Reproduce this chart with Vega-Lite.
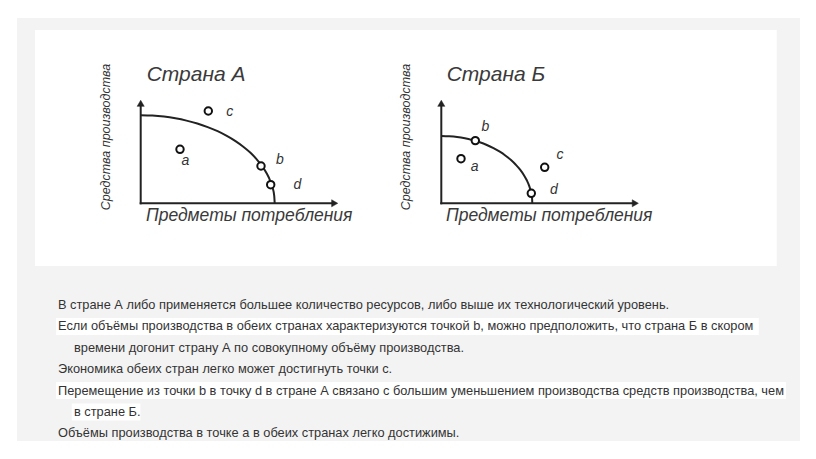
{
  "$schema": "https://vega.github.io/schema/vega-lite/v6.json",
  "background": "white",
  "padding": {"left": 17, "top": 18, "right": 16, "bottom": 18},
  "spacing": 0,
  "config": {"view": {"stroke": null, "fill": "#f3f3f3"}, "concat": {"spacing": 0}},
  "datasets": {
    "frame": [
      {"country": "A", "x": -10.57, "x2": 25.43, "y": 17.33, "y2": -6.27},
      {"country": "B", "x": -4.63, "x2": 33.54, "y": 17.33, "y2": -6.27}
    ],
    "axes": [
      {"country": "A", "x": 0, "y": 0, "x2": 19.3, "y2": 0},
      {"country": "A", "x": 0, "y": 0, "x2": 0, "y2": 9.9},
      {"country": "B", "x": 0, "y": 0, "x2": 19.3, "y2": 0},
      {"country": "B", "x": 0, "y": 0, "x2": 0, "y2": 9.9}
    ],
    "arrows": [
      {"country": "A", "dir": "up", "x": 0, "y": 10.0},
      {"country": "A", "dir": "right", "x": 19.4, "y": 0},
      {"country": "B", "dir": "up", "x": 0, "y": 10.0},
      {"country": "B", "dir": "right", "x": 19.4, "y": 0}
    ],
    "curve": [
      {"country": "A", "x": 0, "y": 8.8}, {"country": "A", "x": 1.17, "y": 8.77}, {"country": "A", "x": 2.33, "y": 8.67},
      {"country": "A", "x": 3.47, "y": 8.5}, {"country": "A", "x": 4.58, "y": 8.27}, {"country": "A", "x": 5.66, "y": 7.98},
      {"country": "A", "x": 6.7, "y": 7.62}, {"country": "A", "x": 7.69, "y": 7.21}, {"country": "A", "x": 8.61, "y": 6.74},
      {"country": "A", "x": 9.48, "y": 6.22}, {"country": "A", "x": 10.26, "y": 5.66}, {"country": "A", "x": 10.98, "y": 5.05},
      {"country": "A", "x": 11.6, "y": 4.4}, {"country": "A", "x": 12.14, "y": 3.72}, {"country": "A", "x": 12.59, "y": 3.01},
      {"country": "A", "x": 12.94, "y": 2.28}, {"country": "A", "x": 13.2, "y": 1.53}, {"country": "A", "x": 13.35, "y": 0.77},
      {"country": "A", "x": 13.4, "y": 0},
      {"country": "B", "x": 0, "y": 6.73}, {"country": "B", "x": 0.79, "y": 6.7}, {"country": "B", "x": 1.58, "y": 6.63},
      {"country": "B", "x": 2.36, "y": 6.5}, {"country": "B", "x": 3.11, "y": 6.32}, {"country": "B", "x": 3.85, "y": 6.1},
      {"country": "B", "x": 4.55, "y": 5.83}, {"country": "B", "x": 5.22, "y": 5.51}, {"country": "B", "x": 5.85, "y": 5.16},
      {"country": "B", "x": 6.43, "y": 4.76}, {"country": "B", "x": 6.97, "y": 4.33}, {"country": "B", "x": 7.45, "y": 3.86},
      {"country": "B", "x": 7.88, "y": 3.37}, {"country": "B", "x": 8.25, "y": 2.84}, {"country": "B", "x": 8.55, "y": 2.3},
      {"country": "B", "x": 8.79, "y": 1.74}, {"country": "B", "x": 8.96, "y": 1.17}, {"country": "B", "x": 9.07, "y": 0.59},
      {"country": "B", "x": 9.1, "y": 0}
    ],
    "points": [
      {"country": "A", "point": "a", "x": 3.93, "y": 5.4},
      {"country": "A", "point": "b", "x": 12.03, "y": 3.73},
      {"country": "A", "point": "c", "x": 6.76, "y": 9.23},
      {"country": "A", "point": "d", "x": 13.0, "y": 1.86},
      {"country": "B", "point": "a", "x": 1.97, "y": 4.46},
      {"country": "B", "point": "b", "x": 3.4, "y": 6.27},
      {"country": "B", "point": "c", "x": 10.34, "y": 3.6},
      {"country": "B", "point": "d", "x": 9.0, "y": 1.0}
    ],
    "pointLabels": [
      {"country": "A", "text": "a", "x": 4.46, "y": 4.26},
      {"country": "A", "text": "b", "x": 13.93, "y": 4.33},
      {"country": "A", "text": "c", "x": 8.9, "y": 9.13},
      {"country": "A", "text": "d", "x": 15.66, "y": 1.86},
      {"country": "B", "text": "a", "x": 3.34, "y": 3.66},
      {"country": "B", "text": "b", "x": 4.4, "y": 7.66},
      {"country": "B", "text": "c", "x": 11.87, "y": 4.8},
      {"country": "B", "text": "d", "x": 11.27, "y": 1.33}
    ],
    "titles": [
      {"country": "A", "text": "Страна А", "x": 0.6, "y": 12.83},
      {"country": "B", "text": "Страна Б", "x": 0.54, "y": 12.83}
    ],
    "xTitles": [
      {"country": "A", "text": "Предметы потребления", "x": 0.53, "y": -1.27},
      {"country": "B", "text": "Предметы потребления", "x": 0.47, "y": -1.27}
    ],
    "yTitles": [
      {"country": "A", "text": "Средства производства", "x": -3.5, "y": 6.63},
      {"country": "B", "text": "Средства производства", "x": -3.53, "y": 6.63}
    ],
    "highlights": [
      {"line": 2, "start": -0.12, "end": 43.8},
      {"line": 5, "start": -0.12, "end": 45.5},
      {"line": 6, "start": 0.86, "end": 5.15}
    ],
    "statements": [
      {"line": 1, "level": 0, "text": "В стране А либо применяется большее количество ресурсов, либо выше их технологический уровень."},
      {"line": 2, "level": 0, "text": "Если объёмы производства в обеих странах характеризуются точкой b, можно предположить, что страна Б в скором"},
      {"line": 3, "level": 1, "text": "времени догонит страну А по совокупному объёму производства."},
      {"line": 4, "level": 0, "text": "Экономика обеих стран легко может достигнуть точки c."},
      {"line": 5, "level": 0, "text": "Перемещение из точки b в точку d в стране А связано с большим уменьшением производства средств производства, чем"},
      {"line": 6, "level": 1, "text": "в стране Б."},
      {"line": 7, "level": 0, "text": "Объёмы производства в точке a в обеих странах легко достижимы."}
    ]
  },
  "vconcat": [
    {
      "spacing": 0,
      "hconcat": [
        {
          "width": 378,
          "height": 248,
          "encoding": {
            "x": {"field": "x", "type": "quantitative", "scale": {"domain": [-12.37, 25.43], "nice": false, "zero": false}, "axis": null},
            "y": {"field": "y", "type": "quantitative", "scale": {"domain": [-6.27, 18.53], "nice": false, "zero": false}, "axis": null}
          },
          "layer": [
            {
              "data": {"name": "frame"},
              "transform": [{"filter": "datum.country === 'A'"}],
              "mark": {"type": "rect", "fill": "white"},
              "encoding": {"x2": {"field": "x2"}, "y2": {"field": "y2"}}
            },
            {
              "data": {"name": "axes"},
              "transform": [{"filter": "datum.country === 'A'"}],
              "mark": {"type": "rule", "stroke": "#222", "strokeWidth": 2, "strokeCap": "square"},
              "encoding": {"x2": {"field": "x2"}, "y2": {"field": "y2"}}
            },
            {
              "data": {"name": "arrows"},
              "transform": [{"filter": "datum.country === 'A' && datum.dir === 'up'"}],
              "mark": {"type": "point", "shape": "triangle-up", "filled": true, "fill": "#222", "stroke": "#222", "strokeWidth": 0.5, "size": 50, "opacity": 1}
            },
            {
              "data": {"name": "arrows"},
              "transform": [{"filter": "datum.country === 'A' && datum.dir === 'right'"}],
              "mark": {"type": "point", "shape": "triangle-right", "filled": true, "fill": "#222", "stroke": "#222", "strokeWidth": 0.5, "size": 50, "opacity": 1}
            },
            {
              "data": {"name": "curve"},
              "transform": [{"filter": "datum.country === 'A'"}],
              "mark": {"type": "line", "stroke": "#222", "strokeWidth": 2, "interpolate": "monotone"}
            },
            {
              "data": {"name": "points"},
              "transform": [{"filter": "datum.country === 'A'"}],
              "mark": {"type": "point", "shape": "circle", "filled": true, "fill": "white", "stroke": "#111", "strokeWidth": 2, "size": 55, "opacity": 1}
            },
            {
              "data": {"name": "pointLabels"},
              "transform": [{"filter": "datum.country === 'A'"}],
              "mark": {"type": "text", "font": "Liberation Sans", "fontStyle": "italic", "fontSize": 14, "color": "#333", "align": "center", "baseline": "middle"},
              "encoding": {"text": {"field": "text"}}
            },
            {
              "data": {"name": "titles"},
              "transform": [{"filter": "datum.country === 'A'"}],
              "mark": {"type": "text", "font": "Liberation Sans", "fontStyle": "italic", "fontSize": 21, "color": "#3a3a3a", "align": "left", "baseline": "middle"},
              "encoding": {"text": {"field": "text"}}
            },
            {
              "data": {"name": "xTitles"},
              "transform": [{"filter": "datum.country === 'A'"}],
              "mark": {"type": "text", "font": "Liberation Sans", "fontStyle": "italic", "fontSize": 17.5, "color": "#3a3a3a", "align": "left", "baseline": "middle"},
              "encoding": {"text": {"field": "text"}}
            },
            {
              "data": {"name": "yTitles"},
              "transform": [{"filter": "datum.country === 'A'"}],
              "mark": {"type": "text", "font": "Liberation Sans", "fontStyle": "italic", "fontSize": 12.5, "color": "#333", "align": "center", "baseline": "middle", "angle": -90},
              "encoding": {"text": {"field": "text"}}
            }
          ]
        },
        {
          "width": 405,
          "height": 248,
          "encoding": {
            "x": {"field": "x", "type": "quantitative", "scale": {"domain": [-4.63, 35.87], "nice": false, "zero": false}, "axis": null},
            "y": {"field": "y", "type": "quantitative", "scale": {"domain": [-6.27, 18.53], "nice": false, "zero": false}, "axis": null}
          },
          "layer": [
            {
              "data": {"name": "frame"},
              "transform": [{"filter": "datum.country === 'B'"}],
              "mark": {"type": "rect", "fill": "white"},
              "encoding": {"x2": {"field": "x2"}, "y2": {"field": "y2"}}
            },
            {
              "data": {"name": "axes"},
              "transform": [{"filter": "datum.country === 'B'"}],
              "mark": {"type": "rule", "stroke": "#222", "strokeWidth": 2, "strokeCap": "square"},
              "encoding": {"x2": {"field": "x2"}, "y2": {"field": "y2"}}
            },
            {
              "data": {"name": "arrows"},
              "transform": [{"filter": "datum.country === 'B' && datum.dir === 'up'"}],
              "mark": {"type": "point", "shape": "triangle-up", "filled": true, "fill": "#222", "stroke": "#222", "strokeWidth": 0.5, "size": 50, "opacity": 1}
            },
            {
              "data": {"name": "arrows"},
              "transform": [{"filter": "datum.country === 'B' && datum.dir === 'right'"}],
              "mark": {"type": "point", "shape": "triangle-right", "filled": true, "fill": "#222", "stroke": "#222", "strokeWidth": 0.5, "size": 50, "opacity": 1}
            },
            {
              "data": {"name": "curve"},
              "transform": [{"filter": "datum.country === 'B'"}],
              "mark": {"type": "line", "stroke": "#222", "strokeWidth": 2, "interpolate": "monotone"}
            },
            {
              "data": {"name": "points"},
              "transform": [{"filter": "datum.country === 'B'"}],
              "mark": {"type": "point", "shape": "circle", "filled": true, "fill": "white", "stroke": "#111", "strokeWidth": 2, "size": 55, "opacity": 1}
            },
            {
              "data": {"name": "pointLabels"},
              "transform": [{"filter": "datum.country === 'B'"}],
              "mark": {"type": "text", "font": "Liberation Sans", "fontStyle": "italic", "fontSize": 14, "color": "#333", "align": "center", "baseline": "middle"},
              "encoding": {"text": {"field": "text"}}
            },
            {
              "data": {"name": "titles"},
              "transform": [{"filter": "datum.country === 'B'"}],
              "mark": {"type": "text", "font": "Liberation Sans", "fontStyle": "italic", "fontSize": 21, "color": "#3a3a3a", "align": "left", "baseline": "middle"},
              "encoding": {"text": {"field": "text"}}
            },
            {
              "data": {"name": "xTitles"},
              "transform": [{"filter": "datum.country === 'B'"}],
              "mark": {"type": "text", "font": "Liberation Sans", "fontStyle": "italic", "fontSize": 17.5, "color": "#3a3a3a", "align": "left", "baseline": "middle"},
              "encoding": {"text": {"field": "text"}}
            },
            {
              "data": {"name": "yTitles"},
              "transform": [{"filter": "datum.country === 'B'"}],
              "mark": {"type": "text", "font": "Liberation Sans", "fontStyle": "italic", "fontSize": 12.5, "color": "#333", "align": "center", "baseline": "middle", "angle": -90},
              "encoding": {"text": {"field": "text"}}
            }
          ]
        }
      ]
    },
    {
      "width": 783,
      "height": 175,
      "layer": [
        {
          "data": {"name": "highlights"},
          "mark": {"type": "rule", "stroke": "white", "strokeWidth": 17, "strokeCap": "butt"},
          "encoding": {
            "x": {"field": "start", "type": "quantitative", "scale": {"domain": [-2.5625, 46.375], "nice": false, "zero": false}, "axis": null},
            "x2": {"field": "end"},
            "y": {"field": "line", "type": "quantitative", "scale": {"domain": [-0.8224, 7.355], "reverse": true, "nice": false, "zero": false}, "axis": null}
          }
        },
        {
          "data": {"name": "statements"},
          "mark": {"type": "text", "font": "Liberation Sans", "fontSize": 12.8, "color": "#333", "align": "left", "baseline": "middle"},
          "encoding": {
            "x": {"field": "level", "type": "quantitative", "scale": {"domain": [-2.5625, 46.375], "nice": false, "zero": false}, "axis": null},
            "y": {"field": "line", "type": "quantitative", "scale": {"domain": [-0.8224, 7.355], "reverse": true, "nice": false, "zero": false}, "axis": null},
            "text": {"field": "text"}
          }
        }
      ]
    }
  ]
}
